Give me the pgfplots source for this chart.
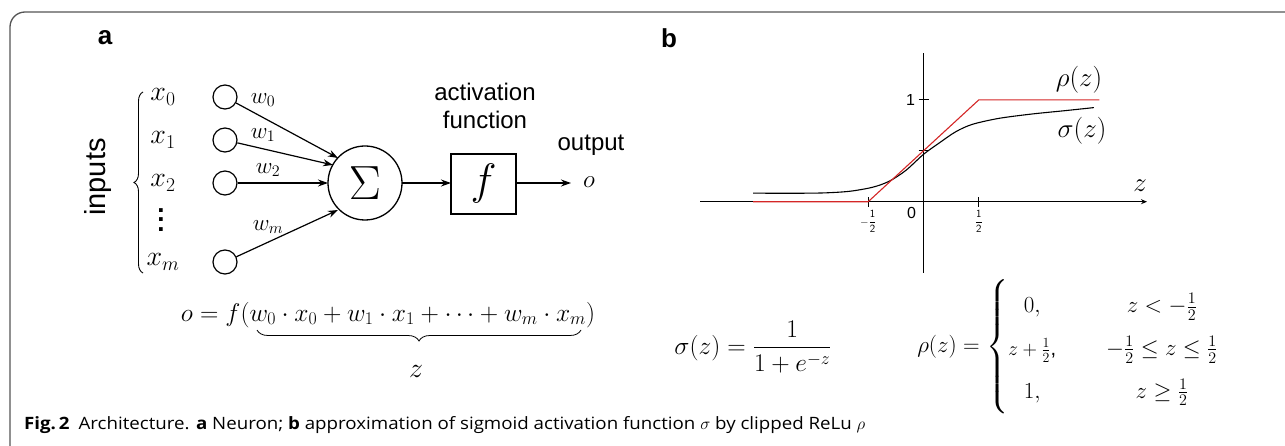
\RequirePackage{fix-cm}
\documentclass[border=0pt]{standalone}
\usepackage{amsmath}
\usepackage{fontspec}
\setmainfont{Liberation Sans}
\newfontfamily\capfont[FakeStretch=1.1]{Open Sans}
\usepackage{pgfplots}
\usepackage{pgfplotstable}
\pgfplotsset{compat=1.18}
\usetikzlibrary{arrows.meta,decorations.pathreplacing}
\definecolor{relured}{RGB}{212,38,38}
\definecolor{framegray}{RGB}{85,85,85}

\pgfplotstableread{
z s
-1.54 0.084
-1.21 0.083
-0.91 0.086
-0.67 0.102
-0.46 0.142
-0.31 0.201
-0.16 0.307
0.00 0.465
0.14 0.575
0.29 0.686
0.44 0.759
0.68 0.818
0.98 0.861
1.28 0.894
1.54 0.924
}\sigmoidtable

\pgfplotstableread{
z r
-1.54 0
-0.5 0
0.5 1
1.59 1
}\relutable

\newcommand\fs[1]{\fontsize{#1}{#1}\selectfont}
\newcommand\bigvdots{\vbox{\baselineskip=9.5pt\lineskiplimit=0pt\hbox{.}\hbox{.}\hbox{.}}}

\begin{document}
\begin{tikzpicture}
\useasboundingbox (0pt,0pt) rectangle (1285pt,-446pt);
\begin{scope}[x=1pt,y=-1pt]
% frame
\draw[framegray,line width=1.3pt,rounded corners=15pt] (10,460) -- (10,12) -- (1300,12);
% panel labels
\node[font=\bfseries\fs{26}] at (105,38) {a};
\node[font=\bfseries\fs{26}] at (669,38) {b};
% panel a
\node[font=\fs{29},rotate=90] at (98,177) {inputs};
\draw[line width=0.9pt,decorate,decoration={brace,amplitude=9pt}] (143,273) -- (143,92);
\node[font=\fs{28}] at (163,97) {$x_0$};
\node[font=\fs{28}] at (163,140) {$x_1$};
\node[font=\fs{28}] at (163,183) {$x_2$};
\node[font=\bfseries\fs{26},inner sep=0pt] at (161,220) {\bigvdots};
\node[font=\fs{28}] at (163,262) {$x_m$};
\foreach \n/\yy in {0/97,1/140,2/183,m/262}
  \node[circle,draw,line width=1.2pt,minimum size=24pt,inner sep=0pt] (c\n) at (225,\yy) {};
\node[circle,draw,line width=1.3pt,minimum size=74pt,inner sep=0pt,font=\fs{48}] (sum) at (365,183) {$\Sigma$};
\begin{scope}[line width=1.2pt,-{Stealth[length=10pt,width=7pt]}]
\draw (c0) -- (338,158);
\draw (c1) -- (333,165);
\draw (c2) -- (328,183);
\draw (cm) -- (338,210);
\draw (402,183) -- (451,183);
\draw (516,183) -- (571,183);
\end{scope}
\node[font=\fs{23}] at (263,100) {$w_0$};
\node[font=\fs{23}] at (263,135) {$w_1$};
\node[font=\fs{23}] at (268,170) {$w_2$};
\node[font=\fs{23}] at (268,227) {$w_m$};
\node[draw,line width=1.3pt,minimum width=65pt,minimum height=60pt,inner sep=0pt,font=\fs{44}] (fbox) at (483.5,184) {$f$};
\node[font=\fs{25}] at (589,182) {$o$};
\node[font=\fs{24},align=center] at (485,106) {activation\\[4pt]function};
\node[font=\fs{24}] at (591,145) {output};
\node[font=\fs{25.5},anchor=base] at (388,321) {$o = f(w_0\cdot x_0 + w_1\cdot x_1 + \cdots + w_m\cdot x_m)$};
\draw[line width=0.8pt,decorate,decoration={brace,amplitude=11pt}] (581,330) -- (257,330);
\node[font=\fs{28}] at (416,371) {$z$};
% panel b labels
\node[font=\fs{27}] at (1079,80) {$\rho(z)$};
\node[font=\fs{27}] at (1082,131) {$\sigma(z)$};
\node[font=\fs{27}] at (1140,186) {$z$};
\node[font=\fs{25.5}] at (753,347) {$\sigma(z) = \dfrac{1}{1+e^{-z}}$};
\node[font=\fs{23}] at (1068,347) {\renewcommand\arraystretch{1.85}$\rho(z) = \left\{\begin{array}{@{}c@{\hspace{50pt}}c@{}} 0, & z<-\tfrac12\\ \mbox{\fs{20}$z+\frac12$,} & -\tfrac12\le z\le \tfrac12\\ 1, & z\ge\tfrac12\end{array}\right.$};
% caption
\node[anchor=base west,inner sep=0pt,font=\capfont\fs{17}] at (24,429) {\textbf{Fig.\,2}\hspace{9pt}Architecture. \textbf{a} Neuron; \textbf{b} approximation of sigmoid activation function $\sigma$ by clipped ReLu $\rho$};
\end{scope}
\begin{axis}[
  at={(700pt,-273pt)}, anchor=south west,
  scale only axis, width=447pt, height=220pt,
  xmin=-2.02, xmax=2.02, ymin=-0.7, ymax=1.46,
  axis lines=middle,
  axis line style={line width=1pt,black},
  x axis line style={-{Stealth[length=6pt,width=5pt]}},
  y axis line style={-},
  xtick={-0.5,0.5}, xticklabels={$-\dfrac{\mathsf{1}}{\mathsf{2}}$,$\dfrac{\mathsf{1}}{\mathsf{2}}$},
  ytick={0.5,1}, yticklabels={,1},
  tick align=center, major tick length=10pt,
  tick style={black,line width=1pt},
  xticklabel style={font=\fs{11}},
  yticklabel style={font=\fs{16}},
  clip=false,
]
\addplot[black,line width=1.1pt,smooth,no marks] table[x=z,y=s] {\sigmoidtable};
\addplot[relured,line width=1.1pt,no marks] table[x=z,y=r] {\relutable};
\node[font=\fs{16}] at (axis cs:-0.108,-0.11) {0};
\end{axis}
\end{tikzpicture}
\end{document}
